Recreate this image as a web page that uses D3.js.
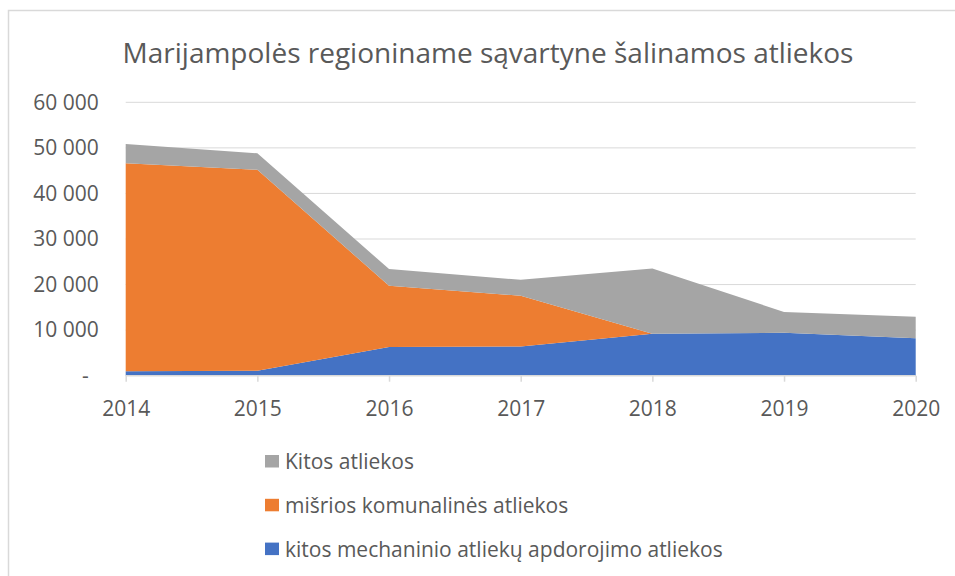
<!DOCTYPE html>
<html>
<head>
<meta charset="utf-8">
<script src="https://cdn.jsdelivr.net/npm/d3@7"></script>
<style>
  body { margin: 0; background: #fff; }
  svg { display: block; }
  text { font-family: "Open Sans", "Noto Sans", sans-serif; fill: #595959; }
</style>
</head>
<body>
<svg id="chart" width="955" height="576"></svg>
<script>
const title = "Marijampolės regioniname sąvartyne šalinamos atliekos";
const years = ["2014", "2015", "2016", "2017", "2018", "2019", "2020"];
const seriesNames = ["kitos mechaninio atliekų apdorojimo atliekos", "mišrios komunalinės atliekos", "Kitos atliekos"];
const mechaninio = [1000, 1100, 6300, 6400, 9200, 9400, 8200];
const misrios = [45600, 44100, 13450, 11150, 0, 0, 0];
const kitos = [4250, 3600, 3650, 3500, 14300, 4600, 4750];
const colors = ["#4472c4", "#ed7d31", "#a5a5a5"];
const yTicks = [0, 10000, 20000, 30000, 40000, 50000, 60000];
const legendOrder = [2, 1, 0];

const svg = d3.select("#chart");
const W = 955, H = 576;
const plot = { left: 125.7, right: 915.7, top: 102.3, bottom: 375.7 };

// chart frame
svg.append("path")
  .attr("d", `M8.5,${H + 2} V10.5 H${W + 2}`)
  .attr("fill", "none").attr("stroke", "#d9d9d9").attr("stroke-width", 1.5);

const x = d3.scalePoint().domain(years).range([plot.left, plot.right]);
const y = d3.scaleLinear().domain([0, 60000]).range([plot.bottom, plot.top]);

// gridlines
svg.append("g").selectAll("line").data(yTicks.filter(d => d > 0)).join("line")
  .attr("x1", plot.left).attr("x2", plot.right)
  .attr("y1", d => y(d)).attr("y2", d => y(d))
  .attr("stroke", "#d9d9d9").attr("stroke-width", 1);

// stacked data
const table = years.map((yr, i) => ({ year: yr, s0: mechaninio[i], s1: misrios[i], s2: kitos[i] }));
const stack = d3.stack().keys(["s0", "s1", "s2"]);
const layers = stack(table);
const area = d3.area()
  .x(d => x(d.data.year))
  .y0(d => y(d[0]))
  .y1(d => y(d[1]));

svg.append("g").selectAll("path").data(layers).join("path")
  .attr("d", area)
  .attr("fill", (d, i) => colors[i]);

// x axis
const xAxis = d3.axisBottom(x).tickSize(6).tickSizeOuter(0).tickPadding(19);
const gx = svg.append("g").attr("transform", `translate(0,${plot.bottom})`).call(xAxis);
gx.select(".domain").attr("stroke", "#d9d9d9").attr("stroke-width", 1.5)
  .attr("d", `M${plot.left},0H${plot.right}`);
gx.selectAll(".tick line").attr("stroke", "#d9d9d9").attr("stroke-width", 1.5);
gx.selectAll(".tick text").attr("font-size", 21).attr("fill", "#595959")
  .attr("font-family", "'Open Sans', sans-serif").attr("dy", "0.71em");

// y axis
const fmt = d => d === 0 ? "-" : d3.format(",")(d).replace(/,/g, " ");
const yAxis = d3.axisLeft(y).tickValues(yTicks).tickFormat(fmt).tickSize(0).tickPadding(27);
const gy = svg.append("g").attr("transform", `translate(${plot.left},0)`).call(yAxis);
gy.select(".domain").remove();
gy.selectAll(".tick text").attr("font-size", 21).attr("fill", "#595959")
  .attr("font-family", "'Open Sans', sans-serif");
gy.selectAll(".tick text").filter(d => d === 0).attr("dx", -10);

// title
svg.append("text").attr("x", 488).attr("y", 63).attr("text-anchor", "middle")
  .attr("font-size", 28).text(title);

// legend
const lg = svg.append("g").selectAll("g").data(legendOrder).join("g")
  .attr("transform", (d, i) => `translate(265,${455 + i * 43.8})`);
lg.append("rect").attr("width", 14).attr("height", 12.5).attr("fill", d => colors[d]);
lg.append("text").attr("x", 20).attr("y", 14).attr("font-size", 21).text(d => seriesNames[d]);
</script>
</body>
</html>
